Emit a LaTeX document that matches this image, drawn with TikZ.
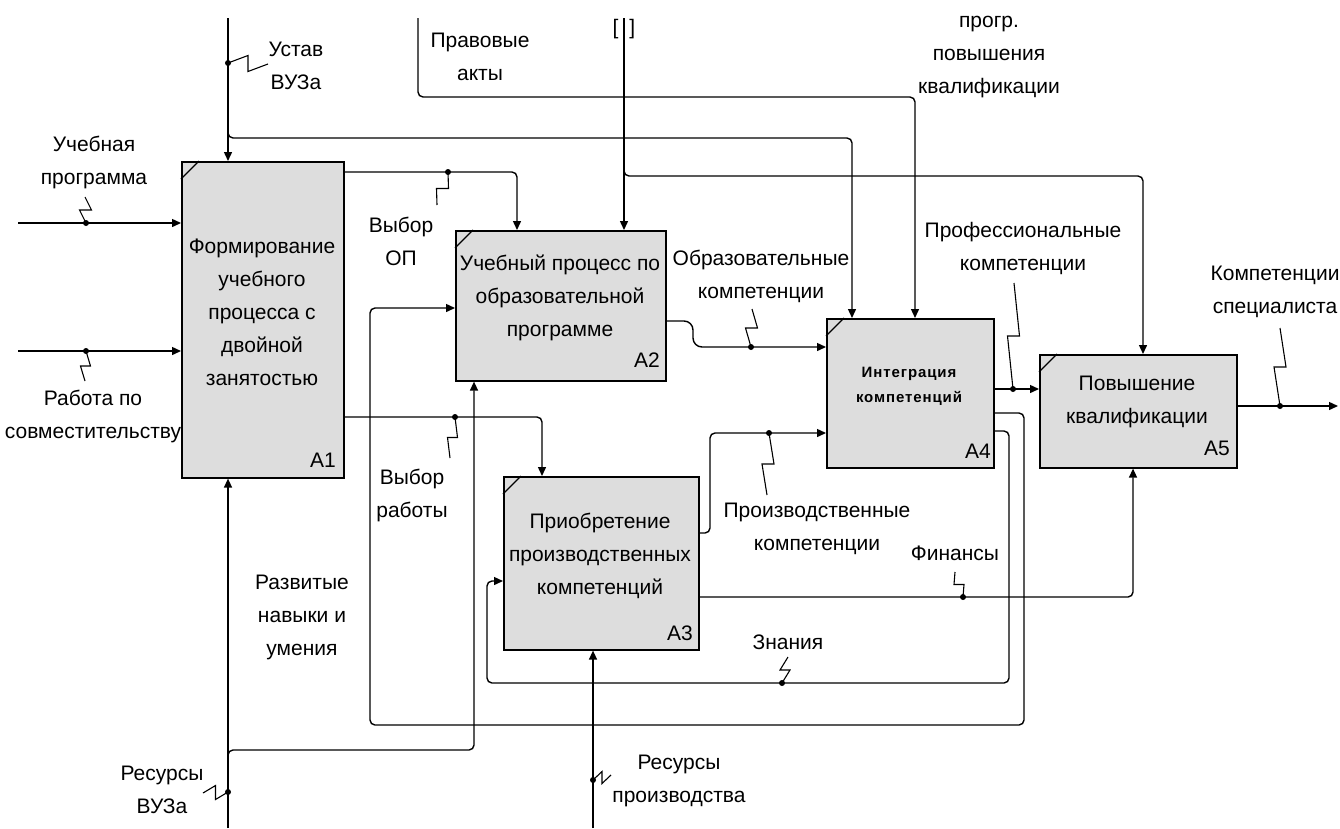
\documentclass[tikz,border=0pt]{standalone}
\usepackage{fontspec}
\setmainfont{Liberation Sans}
\usetikzlibrary{arrows.meta,calc}
\definecolor{boxgray}{RGB}{221,221,221}
\newcommand{\squig}[3]{\draw[sq] (#1) -- ($(#1)!0.5!(#2)+(#3)$) -- ($(#1)!0.5!(#2)-(#3)$) -- (#2);\fill (#1) circle (3pt);}
\begin{document}
\begin{tikzpicture}[x=1pt,y=-1pt,
  box/.style={draw, line width=1.6pt, fill=boxgray, anchor=north west, inner sep=0pt},
  ln/.style={line width=1.4pt, rounded corners=5pt},
  arr/.style={ln, -{Triangle[length=9pt,width=8pt]}},
  sq/.style={line width=1.1pt},
  lbl/.style={align=center, font=\fontsize{21}{33}\selectfont, inner sep=0pt},
  idl/.style={font=\fontsize{21}{25}\selectfont, inner sep=0pt},
  corner/.style={line width=1.2pt}
]
\fill[white] (0,0) rectangle (1340,828);
\useasboundingbox (0,0) rectangle (1340,828);

% boxes
\node[box, minimum width=162pt, minimum height=316pt] (A1) at (181,161) {};
\node[box, minimum width=210pt, minimum height=150pt] (A2) at (455,230) {};
\node[box, minimum width=195pt, minimum height=173pt] (A3) at (503,476) {};
\node[box, minimum width=167pt, minimum height=149pt] (A4) at (826,318) {};
\node[box, minimum width=197pt, minimum height=113pt] (A5) at (1039,354) {};
\foreach \b in {A1,A2,A3,A4,A5}{
  \draw[corner] ($(\b.north west)+(0,18)$) -- ($(\b.north west)+(18,0)$);
}

% box texts
\node[lbl] (t1) at (262,312) {Формирование\\учебного\\процесса с\\двойной\\занятостью};
\node[lbl] (t2) at (560,298) {Учебный процесс по\\образовательной\\программе};
\node[lbl] (t3) at (600,556) {Приобретение\\производственных\\компетенций};
\node[align=center, inner sep=0pt, font=\fontsize{15}{25}\selectfont\bfseries\addfontfeatures{LetterSpace=6}] (t4) at (909,386) {Интеграция\\компетенций};
\node[lbl] (t5) at (1137,402) {Повышение\\квалификации};
\node[idl] (n1) at (323,460) {A1};
\node[idl] (n2) at (647,360) {A2};
\node[idl] (n3) at (680,633) {A3};
\node[idl] (n4) at (978,451) {A4};
\node[idl] (n5) at (1217,448) {A5};

% labels
\node[lbl] (Luch) at (94,162) {Учебная\\программа};
\node[lbl] (Lrab) at (93,416) {Работа по\\совместительству};
\node[lbl] (Lust) at (296,66) {Устав\\ВУЗа};
\node[lbl] (Lprav) at (480,57) {Правовые\\акты};
\node[lbl] (Lbr) at (624,29) {[\hspace{11pt}]};
\node[lbl] (Lprogr) at (989,57) {прогр.\\повышения\\квалификации};
\node[lbl] (Lvop) at (401,241) {Выбор\\ОП};
\node[lbl] (Lvrab) at (412,495) {Выбор\\работы};
\node[lbl] (Lobr) at (761,276) {Образовательные\\компетенции};
\node[lbl] (Lprof) at (1023,248) {Профессиональные\\компетенции};
\node[lbl] (Lks) at (1275,292) {Компетенции\\специалиста};
\node[lbl] (Lproizv) at (817,529) {Производственные\\компетенции};
\node[lbl] (Lfin) at (955,553) {Финансы};
\node[lbl] (Lzn) at (788,642) {Знания};
\node[lbl] (Lrazv) at (302,617) {Развитые\\навыки и\\умения};
\node[lbl] (Lrv) at (162,790) {Ресурсы\\ВУЗа};
\node[lbl] (Lrp) at (679,781) {Ресурсы\\производства};

% inputs
\coordinate (ui) at (18,223);
\draw[arr] (ui) -- (ui -| A1.west);
\coordinate (ri) at (18,351);
\draw[arr] (ri) -- (ri -| A1.west);

% controls
\coordinate (ust) at (228,18);
\draw[arr] (ust) -- (ust |- A1.north);
\coordinate (ustb) at (228,126);
\coordinate (a4c1) at (852,138);
\draw[arr] (ustb) |- (a4c1) -- (a4c1 |- A4.north);

\coordinate (prav) at (418,18);
\coordinate (pravc) at (915,97);
\draw[arr] (prav) |- (pravc) -- (pravc |- A4.north);

\coordinate (tun) at (624,18);
\draw[arr] (tun) -- (tun |- A2.north);
\coordinate (tunb) at (624,168);
\coordinate (tunc) at (1143,176);
\draw[arr] (tunb) |- (tunc) -- (tunc |- A5.north);

% A1 outputs
\coordinate (vop) at (517,172);
\draw[arr] (vop -| A1.east) -- (vop) -- (vop |- A2.north);
\coordinate (vrab) at (542,417);
\draw[arr] (vrab -| A1.east) -- (vrab) -- (vrab |- A3.north);

% A2 output
\coordinate (ob1) at (693,321);
\coordinate (ob2) at (693,347);
\draw[arr, rounded corners=9pt] (ob1 -| A2.east) -- (ob1) -- (ob2) -- (ob2 -| A4.west);

% A3 output
\coordinate (pr1) at (710,533);
\coordinate (pr2) at (710,433);
\draw[arr] (pr1 -| A3.east) -- (pr1) -- (pr2) -- (pr2 -| A4.west);

% A4 outputs
\coordinate (pk) at (1013,389);
\draw[arr] (pk -| A4.east) -- (pk -| A5.west);
\coordinate (r1) at (1024,413);
\coordinate (r2) at (370,725);
\coordinate (r3) at (370,308);
\draw[arr] (r1 -| A4.east) -- (r1) |- (r2) -- (r3) -- (r3 -| A2.west);
\coordinate (z1) at (1009,431);
\coordinate (z2) at (487,683);
\coordinate (z3) at (487,581);
\draw[arr] (z1 -| A4.east) -- (z1) |- (z2) -- (z3) -- (z3 -| A3.west);

% A3 finance
\coordinate (f1) at (1133,597);
\draw[arr] (f1 -| A3.east) -- (f1) -- (f1 |- A5.south);

% A5 output
\coordinate (ks) at (1338,406);
\draw[arr] (ks -| A5.east) -- (ks);

% mechanisms
\coordinate (rv) at (228,828);
\draw[arr] (rv) -- (rv |- A1.south);
\coordinate (rvb) at (228,758);
\coordinate (rvc) at (474,750);
\draw[arr] (rvb) |- (rvc) -- (rvc |- A2.south);
\coordinate (rp) at (593,828);
\draw[arr] (rp) -- (rp |- A3.south);

% squiggles
\coordinate (d1) at (86,223);   \coordinate (e1) at (85,197);
\coordinate (d2) at (86,351);   \coordinate (e2) at (85,381);
\coordinate (d3) at (228,63);   \coordinate (e3) at (268,64);
\coordinate (d4) at (448,172);  \coordinate (e4) at (437,205);
\coordinate (d5) at (455,417);  \coordinate (e5) at (450,458);
\coordinate (d6) at (751,347);  \coordinate (e6) at (752,309);
\coordinate (d7) at (769,433);  \coordinate (e7) at (767,495);
\coordinate (d8) at (1013,389); \coordinate (e8) at (1014,283);
\coordinate (d9) at (1280,406); \coordinate (e9) at (1280,328);
\coordinate (d10) at (963,597); \coordinate (e10) at (955,572);
\coordinate (d11) at (782,683); \coordinate (e11) at (788,657);
\coordinate (d12) at (593,780); \coordinate (e12) at (611,775);
\coordinate (d13) at (228,792); \coordinate (e13) at (203,793);
\squig{d1}{e1}{-6,0}
\squig{d2}{e2}{5,0}
\squig{d3}{e3}{0,-8}
\squig{d4}{e4}{6,0}
\squig{d5}{e5}{5,0}
\squig{d6}{e6}{-6,0}
\squig{d7}{e7}{6,0}
\squig{d8}{e8}{-6,0}
\squig{d9}{e9}{-6,0}
\squig{d10}{e10}{5,0}
\squig{d11}{e11}{5,0}
\squig{d12}{e12}{0,-6}
\squig{d13}{e13}{0,7}
\end{tikzpicture}
\end{document}
